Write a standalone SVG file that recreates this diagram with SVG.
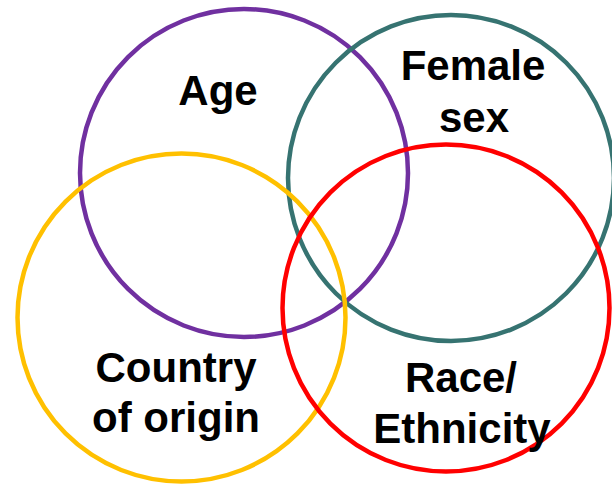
<svg xmlns="http://www.w3.org/2000/svg" width="612" height="485" viewBox="0 0 612 485">
<style>
.c{fill:none;stroke-width:4.5}
.t{font-family:"Liberation Sans",Arial,sans-serif;font-weight:bold;font-size:42px;fill:#000;text-anchor:middle}
</style>
<rect width="612" height="485" fill="#fff"/>
<g id="age"><circle class="c" cx="244" cy="173" r="164" stroke="#7030A0"/><text class="t" x="218" y="105">Age</text></g>
<g id="female-sex"><circle class="c" cx="451" cy="178" r="163" stroke="#367371"/><text class="t" x="473" y="80">Female</text><text class="t" x="474" y="132">sex</text></g>
<g id="country-of-origin"><circle class="c" cx="181.5" cy="317.5" r="164" stroke="#FFC000"/><text class="t" x="176" y="382">Country</text><text class="t" x="176" y="432">of origin</text></g>
<g id="race-ethnicity"><circle class="c" cx="446" cy="308" r="163.5" stroke="#FF0000"/><text class="t" x="461" y="392">Race/</text><text class="t" x="462" y="443">Ethnicity</text></g>
<g id="connectors"/>
</svg>
